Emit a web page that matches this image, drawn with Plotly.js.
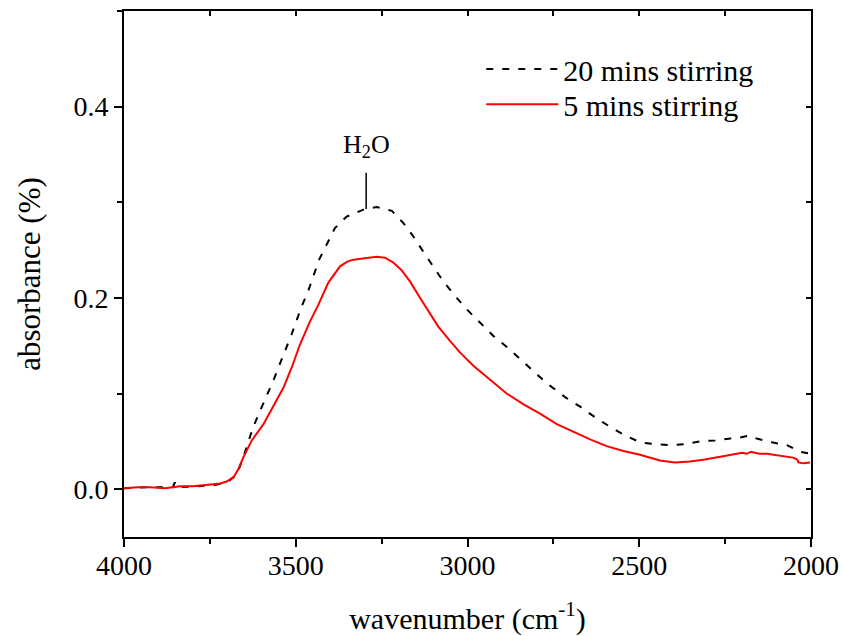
<!DOCTYPE html>
<html>
<head>
<meta charset="utf-8">
<script src="https://cdn.plot.ly/plotly-3.0.1.min.js"></script>
<style>html,body{margin:0;padding:0;background:#fff;}#chart{width:843px;height:636px;}</style>
</head>
<body>
<div id="chart"></div>
<script>
// 20 mins stirring (black dashed)
const wn20 = [4000, 3930, 3858, 3852, 3846, 3790, 3741, 3701, 3672, 3653, 3624, 3600, 3566, 3532, 3512, 3483, 3464, 3432, 3410, 3386, 3352, 3320, 3298, 3264, 3220, 3186, 3157, 3128, 3099, 3070, 3036, 3002, 2963, 2924, 2880, 2841, 2798, 2759, 2715, 2671, 2628, 2584, 2540, 2497, 2453, 2410, 2366, 2323, 2279, 2235, 2206, 2182, 2158, 2114, 2070, 2031, 2000];
const abs20 = [0.001, 0.002, 0.002, 0.007, 0.002, 0.003, 0.004, 0.007, 0.015, 0.033, 0.065, 0.085, 0.113, 0.144, 0.162, 0.191, 0.207, 0.240, 0.255, 0.273, 0.285, 0.290, 0.293, 0.295, 0.291, 0.278, 0.264, 0.248, 0.233, 0.217, 0.202, 0.188, 0.174, 0.160, 0.147, 0.134, 0.120, 0.108, 0.096, 0.086, 0.075, 0.065, 0.056, 0.049, 0.047, 0.046, 0.047, 0.050, 0.051, 0.053, 0.054, 0.056, 0.053, 0.049, 0.046, 0.039, 0.037];

// 5 mins stirring (red solid)
const wn5 = [4000, 3960, 3924, 3880, 3837, 3800, 3770, 3741, 3720, 3701, 3691, 3680, 3672, 3667, 3653, 3640, 3628, 3610, 3594, 3565, 3536, 3512, 3488, 3459, 3434, 3405, 3371, 3350, 3332, 3310, 3289, 3265, 3240, 3216, 3192, 3167, 3138, 3114, 3085, 3051, 3022, 2983, 2944, 2905, 2886, 2838, 2789, 2740, 2692, 2643, 2595, 2546, 2498, 2440, 2396, 2352, 2309, 2265, 2226, 2200, 2187, 2175, 2163, 2150, 2129, 2110, 2090, 2052, 2040, 2037, 2022, 2003];
const abs5 = [0.001, 0.002, 0.002, 0.001, 0.003, 0.003, 0.004, 0.005, 0.006, 0.008, 0.010, 0.013, 0.018, 0.021, 0.033, 0.043, 0.051, 0.060, 0.068, 0.087, 0.106, 0.127, 0.151, 0.175, 0.193, 0.216, 0.233, 0.238, 0.240, 0.241, 0.242, 0.243, 0.242, 0.237, 0.229, 0.217, 0.200, 0.186, 0.170, 0.155, 0.143, 0.129, 0.117, 0.106, 0.100, 0.089, 0.079, 0.068, 0.060, 0.052, 0.045, 0.040, 0.036, 0.030, 0.028, 0.029, 0.031, 0.034, 0.036, 0.038, 0.037, 0.039, 0.038, 0.037, 0.037, 0.036, 0.035, 0.033, 0.031, 0.028, 0.027, 0.028];

const seriesNames = ["20 mins stirring", "5 mins stirring"];
const xTickVals = [4000, 3500, 3000, 2500, 2000];
const yTickVals = [0.0, 0.2, 0.4];
const yTickText = ["0.0", "0.2", "0.4"];
const peakLabel = {x: 3295, yLow: 0.293, yHigh: 0.331, yText: 0.359, text: "H<sub>2</sub>O"};

const FONT = 'Liberation Serif';

const traces = [
  {x: wn20, y: abs20, type: 'scatter', mode: 'lines', name: seriesNames[0], legend: 'legend',
   line: {color: '#000000', width: 2, dash: '7px,9px'}},
  {x: wn5, y: abs5, type: 'scatter', mode: 'lines', name: seriesNames[1], legend: 'legend2',
   line: {color: '#ff0000', width: 2}},
  {x: [], y: [], xaxis: 'x2', yaxis: 'y2', showlegend: false, hoverinfo: 'skip'}
];

const axCommon = {showgrid: false, zeroline: false, linecolor: '#000', linewidth: 2, color: '#000', ticklen: 8, tickwidth: 2};
const legCommon = {x: 0.52, xanchor: 'left', yanchor: 'top', bgcolor: 'rgba(0,0,0,0)',
                   font: {family: FONT, size: 30, color: '#000'}, itemwidth: 72};

const layout = {
  width: 843, height: 636,
  margin: {l: 124, r: 32, t: 11, b: 99},
  paper_bgcolor: '#fff', plot_bgcolor: '#fff',
  font: {family: FONT, color: '#000', size: 28},
  showlegend: true,
  legend: Object.assign({}, legCommon, {y: 0.939}),
  legend2: Object.assign({}, legCommon, {y: 0.872}),
  xaxis: Object.assign({}, axCommon, {
    range: [4000, 2000], tickvals: xTickVals, ticks: 'outside', mirror: true,
    tickfont: {family: FONT, size: 28, color: '#000'}, ticklabelstandoff: -6,
    minor: {dtick: 250, ticks: 'outside', ticklen: 5, tickwidth: 2, tickcolor: '#000', tick0: 0},
    title: {text: 'wavenumber (cm<sup>-1</sup>)', font: {family: FONT, size: 30, color: '#000'}, standoff: 30}
  }),
  yaxis: Object.assign({}, axCommon, {
    range: [-0.05, 0.5], tickvals: yTickVals, ticktext: yTickText, ticks: 'outside', mirror: true,
    tickfont: {family: FONT, size: 28, color: '#000'},
    minor: {dtick: 0.1, ticks: 'outside', ticklen: 5, tickwidth: 2, tickcolor: '#000', tick0: 0},
    title: {text: 'absorbance (%)', font: {family: FONT, size: 31, color: '#000'}, standoff: 24}
  }),
  xaxis2: {overlaying: 'x', side: 'top', range: [4000, 2000], dtick: 250, tick0: 0, ticks: 'inside', ticklen: 5, tickwidth: 2, tickcolor: '#000', showticklabels: false, showgrid: false, zeroline: false, showline: false},
  yaxis2: {overlaying: 'y', side: 'right', range: [-0.05, 0.5], dtick: 0.1, tick0: 0, ticks: 'inside', ticklen: 5, tickwidth: 2, tickcolor: '#000', showticklabels: false, showgrid: false, zeroline: false, showline: false},
  shapes: [
    {type: 'line', xref: 'x', yref: 'y', x0: peakLabel.x, x1: peakLabel.x, y0: peakLabel.yLow, y1: peakLabel.yHigh, line: {color: '#000', width: 1.5}}
  ],
  annotations: [
    {x: peakLabel.x, y: peakLabel.yText, xref: 'x', yref: 'y', text: peakLabel.text, showarrow: false,
     font: {family: FONT, size: 26, color: '#000'}}
  ]
};

Plotly.newPlot('chart', traces, layout, {displayModeBar: false, staticPlot: true});
</script>
</body>
</html>
